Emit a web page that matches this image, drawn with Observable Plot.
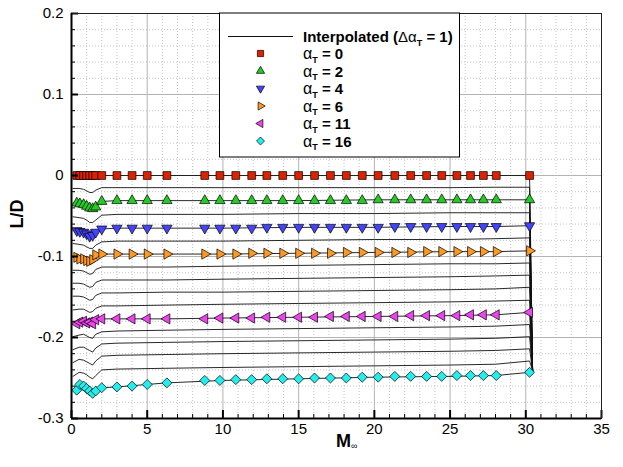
<!DOCTYPE html>
<html><head><meta charset="utf-8">
<script src="https://cdn.jsdelivr.net/npm/d3@7"></script>
<script src="https://cdn.jsdelivr.net/npm/@observablehq/plot@0.6"></script>
<style>body{margin:0;background:#fff} #chart{width:623px;height:467px}</style>
</head><body><div id="chart"></div>
<script>
// ---------- DATA ----------
// Interpolated curves (alpha_T = 0..16, step 1), sampled at these Mach numbers
const machLine = [0.1, 0.5, 0.8, 1.0, 1.2, 1.4, 1.6, 2.0, 3.0, 6.3, 10, 15, 20, 25, 28, 30.25];
const ldLine0  = [0,0,0,0,0,0,0,0,0,0,0,0,0,0,0,0];
const ldLine1  = [-0.016,-0.016,-0.017,-0.019,-0.021,-0.021,-0.018,-0.015,-0.015,-0.015,-0.015,-0.015,-0.015,-0.015,-0.0145,-0.0145];
const ldLine2  = [-0.034,-0.035,-0.036,-0.038,-0.040,-0.041,-0.039,-0.032,-0.031,-0.031,-0.031,-0.031,-0.030,-0.030,-0.030,-0.030];
const ldLine3  = [-0.051,-0.052,-0.053,-0.055,-0.058,-0.058,-0.055,-0.049,-0.048,-0.048,-0.048,-0.047,-0.047,-0.046,-0.046,-0.046];
const ldLine4  = [-0.068,-0.069,-0.070,-0.072,-0.075,-0.074,-0.070,-0.066,-0.065,-0.065,-0.065,-0.064,-0.064,-0.063,-0.063,-0.062];
const ldLine5  = [-0.084,-0.085,-0.086,-0.088,-0.090,-0.090,-0.086,-0.082,-0.081,-0.081,-0.081,-0.080,-0.079,-0.079,-0.078,-0.077];
const ldLine6  = [-0.101,-0.102,-0.103,-0.105,-0.106,-0.104,-0.098,-0.097,-0.097,-0.097,-0.097,-0.096,-0.095,-0.094,-0.094,-0.093];
const ldLine7  = [-0.117,-0.117,-0.118,-0.120,-0.122,-0.121,-0.116,-0.113,-0.113,-0.113,-0.112,-0.111,-0.110,-0.109,-0.109,-0.108];
const ldLine8  = [-0.133,-0.133,-0.134,-0.136,-0.138,-0.137,-0.132,-0.129,-0.129,-0.129,-0.128,-0.127,-0.126,-0.125,-0.124,-0.123];
const ldLine9  = [-0.149,-0.149,-0.150,-0.152,-0.154,-0.153,-0.148,-0.145,-0.145,-0.144,-0.144,-0.143,-0.142,-0.141,-0.140,-0.138];
const ldLine10 = [-0.166,-0.165,-0.165,-0.167,-0.169,-0.168,-0.164,-0.161,-0.161,-0.160,-0.159,-0.158,-0.157,-0.156,-0.155,-0.154];
const ldLine11 = [-0.183,-0.181,-0.180,-0.182,-0.181,-0.183,-0.178,-0.177,-0.177,-0.177,-0.176,-0.175,-0.174,-0.173,-0.172,-0.169];
const ldLine12 = [-0.199,-0.197,-0.196,-0.198,-0.200,-0.201,-0.196,-0.193,-0.192,-0.191,-0.190,-0.189,-0.188,-0.187,-0.186,-0.184];
const ldLine13 = [-0.215,-0.212,-0.212,-0.214,-0.216,-0.218,-0.213,-0.208,-0.207,-0.206,-0.205,-0.204,-0.203,-0.202,-0.201,-0.199];
const ldLine14 = [-0.231,-0.227,-0.228,-0.230,-0.232,-0.234,-0.229,-0.223,-0.222,-0.221,-0.220,-0.219,-0.218,-0.217,-0.216,-0.214];
const ldLine15 = [-0.248,-0.243,-0.244,-0.246,-0.249,-0.251,-0.247,-0.240,-0.239,-0.238,-0.237,-0.236,-0.235,-0.234,-0.233,-0.229];
const ldLine16 = [-0.265,-0.258,-0.260,-0.263,-0.266,-0.269,-0.266,-0.262,-0.261,-0.256,-0.253,-0.251,-0.249,-0.248,-0.247,-0.243];
// every curve ends by dropping to this point
const machEnd = 30.45;
const ldEnd = -0.241;

// Computed data points (markers)
const machMarkers = [0.35,0.55,0.8,1.0,1.2,1.4,1.6,2.0,3.0,4.0,5.0,6.3,
  8.8,9.8,10.85,11.9,12.9,13.95,15.0,16.05,17.1,18.15,19.2,
  20.25,21.35,22.4,23.45,24.45,25.45,26.35,27.2,28.05,30.25];
const ldMarker0 = [0,0,0,0,0,0,0,0,0,0,0,0, 0,0,0,0,0,0,0,0,0,0,0, 0,0,0,0,0,0,0,0,0,0];
const ldMarker2 = [-0.034,-0.035,-0.036,-0.038,-0.040,-0.041,-0.039,-0.032,-0.031,-0.031,-0.031,-0.031,
  -0.031,-0.031,-0.031,-0.031,-0.031,-0.031,-0.031,-0.031,-0.031,-0.031,-0.031,
  -0.030,-0.030,-0.030,-0.030,-0.030,-0.030,-0.030,-0.030,-0.030,-0.030];
const ldMarker4 = [-0.068,-0.069,-0.070,-0.072,-0.075,-0.074,-0.070,-0.066,-0.065,-0.065,-0.065,-0.065,
  -0.065,-0.065,-0.065,-0.065,-0.064,-0.064,-0.064,-0.064,-0.064,-0.064,-0.064,
  -0.064,-0.063,-0.063,-0.063,-0.063,-0.063,-0.063,-0.063,-0.063,-0.062];
const ldMarker6 = [-0.101,-0.103,-0.103,-0.105,-0.106,-0.104,-0.098,-0.097,-0.097,-0.097,-0.097,-0.097,
  -0.097,-0.097,-0.097,-0.096,-0.096,-0.096,-0.096,-0.096,-0.096,-0.095,-0.095,
  -0.095,-0.095,-0.095,-0.094,-0.094,-0.094,-0.094,-0.094,-0.094,-0.093];
const ldMarker11 = [-0.183,-0.181,-0.180,-0.182,-0.181,-0.183,-0.178,-0.177,-0.177,-0.177,-0.177,-0.177,
  -0.177,-0.176,-0.176,-0.176,-0.175,-0.175,-0.175,-0.175,-0.174,-0.174,-0.174,
  -0.174,-0.174,-0.173,-0.173,-0.173,-0.173,-0.172,-0.172,-0.172,-0.169];
const ldMarker16 = [-0.265,-0.258,-0.260,-0.263,-0.266,-0.269,-0.266,-0.262,-0.261,-0.260,-0.258,-0.256,
  -0.253,-0.253,-0.252,-0.252,-0.251,-0.251,-0.251,-0.250,-0.250,-0.250,-0.249,
  -0.249,-0.248,-0.248,-0.248,-0.248,-0.247,-0.247,-0.247,-0.247,-0.243];

const markerAlphas = [0, 2, 4, 6, 11, 16];
const markerColors = ["#dd2200", "#22cc22", "#4444ff", "#ff9922", "#ee44ee", "#22eeee"];
const legendTitle = "Interpolated (";

const xTicks = [0, 5, 10, 15, 20, 25, 30, 35];
const xTickLabels = ["0", "5", "10", "15", "20", "25", "30", "35"];
const yTicks = [-0.3, -0.2, -0.1, 0, 0.1, 0.2];
const yTickLabels = ["-0.3", "-0.2", "-0.1", "0", "0.1", "0.2"];

// ---------- BUILD ----------
const lineArrays = [ldLine0, ldLine1, ldLine2, ldLine3, ldLine4, ldLine5, ldLine6, ldLine7, ldLine8,
  ldLine9, ldLine10, ldLine11, ldLine12, ldLine13, ldLine14, ldLine15, ldLine16];
const lineRows = [];
lineArrays.forEach((arr, a) => {
  arr.forEach((v, i) => lineRows.push({alpha: a, mach: machLine[i], ld: v}));
  lineRows.push({alpha: a, mach: machEnd, ld: ldEnd});
});
const markerArrays = [ldMarker0, ldMarker2, ldMarker4, ldMarker6, ldMarker11, ldMarker16];
const markerSpecs = [
  {symbol: "square", rotate: 0, r: 4.4},
  {symbol: "triangle", rotate: 0, r: 3.8},
  {symbol: "triangle", rotate: 180, r: 3.8},
  {symbol: "triangle", rotate: 90, r: 3.8},
  {symbol: "triangle", rotate: -90, r: 3.8},
  {symbol: "diamond2", rotate: 0, r: 4.5}
];

const W = 623, H = 467, mL = 71, mR = 22, mT = 13, mB = 49;
const pw = W - mL - mR, ph = H - mT - mB;
const font = "'Liberation Sans', Arial, Helvetica, sans-serif";

const minorX = d3.range(1, 35).filter(v => v % 5 !== 0);
const minorY = d3.range(-14, 10).map(v => v / 50).filter(v => Math.abs(Math.round(v * 10) - v * 10) > 1e-6);
const innerMajorX = xTicks.filter(v => v > 0 && v < 35);
const innerMajorY = yTicks.filter(v => v > -0.3 && v < 0.2);

const marks = [
  Plot.ruleX(minorX, {stroke: "#c4c4c4", strokeDasharray: "1,2", strokeWidth: 1}),
  Plot.ruleY(minorY, {stroke: "#c4c4c4", strokeDasharray: "1,2", strokeWidth: 1}),
  Plot.ruleX(innerMajorX, {stroke: "#b4b4b4", strokeWidth: 1}),
  Plot.ruleY(innerMajorY, {stroke: "#b4b4b4", strokeWidth: 1}),
  Plot.line(lineRows, {x: "mach", y: "ld", z: "alpha", stroke: "#111", strokeWidth: 0.9})
];
markerArrays.forEach((arr, k) => {
  const rows = arr.map((v, i) => ({mach: machMarkers[i], ld: v}));
  const s = markerSpecs[k];
  marks.push(Plot.dot(rows, {x: "mach", y: "ld", symbol: s.symbol, r: s.r, rotate: s.rotate,
    fill: markerColors[k], stroke: "#000", strokeWidth: 0.7}));
});
marks.push(
  // minor & major inward ticks
  Plot.ruleX(minorX, {insetTop: ph - 4, stroke: "#000", strokeWidth: 1}),
  Plot.ruleX(xTicks, {insetTop: ph - 8, stroke: "#000", strokeWidth: 2}),
  Plot.ruleY(minorY, {insetRight: pw - 4, stroke: "#000", strokeWidth: 1}),
  Plot.ruleY(yTicks, {insetRight: pw - 7, stroke: "#000", strokeWidth: 2}),
  Plot.frame({stroke: "#222", strokeWidth: 1}),
  Plot.ruleX([0], {stroke: "#000", strokeWidth: 2}),
  Plot.ruleY([-0.3], {stroke: "#000", strokeWidth: 2}),
  Plot.axisX(xTicks, {tickSize: 0, tickPadding: 5, fontSize: 15, tickFormat: d => xTickLabels[xTicks.indexOf(d)], label: null}),
  Plot.axisY(yTicks, {tickSize: 0, tickPadding: 8, fontSize: 15, tickFormat: d => yTickLabels[yTicks.indexOf(d)], label: null})
);

const svg = Plot.plot({
  width: W, height: H,
  marginLeft: mL, marginRight: mR, marginTop: mT, marginBottom: mB,
  x: {domain: [0, 35]},
  y: {domain: [-0.3, 0.2]},
  style: {fontFamily: font, fontSize: "15px", background: "#fff", color: "#000", overflow: "visible"},
  marks
});
document.getElementById("chart").appendChild(svg);

// ---------- AXIS TITLES & LEGEND ----------
const s = d3.select(svg);
s.append("text").attr("transform", "translate(23,214) rotate(-90)")
  .attr("text-anchor", "middle").attr("font-family", font).attr("font-size", 18).attr("font-weight", "bold")
  .text("L/D");
const mt = s.append("text").attr("x", 336).attr("y", 447).attr("text-anchor", "start").attr("font-family", font)
  .attr("font-size", 18).attr("font-weight", "bold");
mt.append("tspan").text("M");
mt.append("tspan").attr("font-size", 9).attr("font-weight", "normal").attr("dy", 2).text("∞");

const lg = s.append("g").attr("font-family", font).attr("text-anchor", "start").style("white-space", "pre");
lg.append("rect").attr("x", 219.5).attr("y", 13).attr("width", 240).attr("height", 144)
  .attr("fill", "#fff").attr("stroke", "#000").attr("stroke-width", 1);
lg.append("line").attr("x1", 228).attr("x2", 293).attr("y1", 36.5).attr("y2", 36.5)
  .attr("stroke", "#111").attr("stroke-width", 1);
const t0 = lg.append("text").attr("x", 303).attr("y", 42).attr("font-size", 15).attr("font-weight", "bold");
t0.append("tspan").text(legendTitle);
t0.append("tspan").attr("font-weight", "normal").text("Δα");
t0.append("tspan").attr("font-size", 9).attr("dy", 3.5).text("T");
t0.append("tspan").attr("dy", -3.5).text(" = 1)");

const rowY = [53.5, 71, 88.5, 106, 123.5, 141];
const symMap = {square: d3.symbolSquare, triangle: d3.symbolTriangle, diamond2: d3.symbolDiamond2};
markerAlphas.forEach((a, k) => {
  const spec = markerSpecs[k];
  const r = spec.r * 0.8;
  lg.append("path")
    .attr("d", d3.symbol().type(symMap[spec.symbol]).size(Math.PI * r * r)())
    .attr("transform", `translate(260.5,${rowY[k]}) rotate(${spec.rotate})`)
    .attr("fill", markerColors[k]).attr("stroke", "#000").attr("stroke-width", 0.7);
  const t = lg.append("text").attr("x", 303).attr("y", rowY[k] + 5.5).attr("font-size", 15).attr("font-weight", "bold");
  t.append("tspan").attr("font-weight", "normal").attr("font-size", 16).text("α");
  t.append("tspan").attr("font-size", 9).attr("dy", 3.5).text("T");
  t.append("tspan").attr("dy", -3.5).text(" = " + a);
});
</script></body></html>
